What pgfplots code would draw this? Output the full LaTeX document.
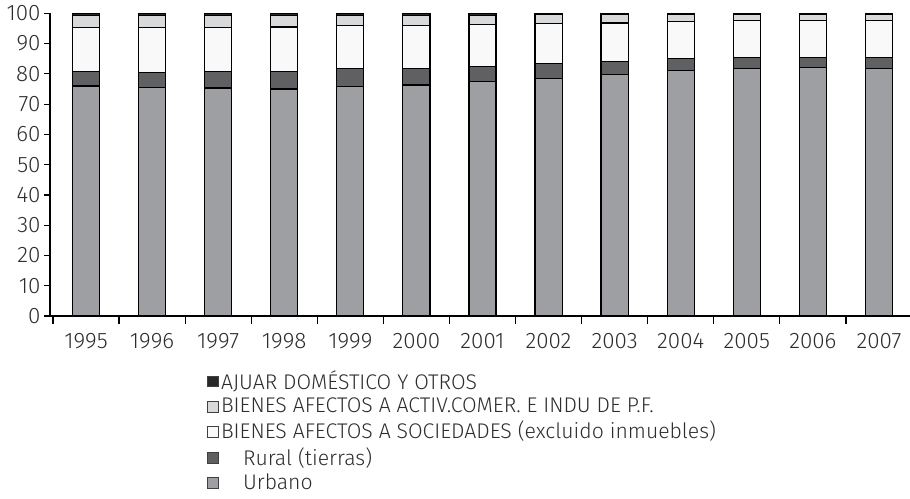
\documentclass[border=0pt]{standalone}
\usepackage{fontspec}
\setmainfont{Fira Sans Light}
\usepackage{pgfplots}
\pgfplotsset{compat=1.18}
\definecolor{urb}{RGB}{158,159,163}
\definecolor{rur}{RGB}{96,96,98}
\definecolor{soc}{RGB}{249,249,249}
\definecolor{act}{RGB}{216,217,219}
\definecolor{aju}{RGB}{40,40,40}
\definecolor{txt}{RGB}{45,45,45}
\pgfplotstableread{
x urb rur soc act aju
0  76.0 4.9 14.5 4.0 0.6
1  75.5 5.0 14.9 4.0 0.6
2  75.3 5.5 14.6 4.0 0.6
3  75.0 5.9 14.6 3.9 0.6
4  75.8 5.9 14.2 3.5 0.6
5  76.3 5.4 14.4 3.3 0.6
6  77.4 5.1 13.9 3.0 0.6
7  78.5 5.0 13.1 2.9 0.5
8  79.8 4.4 12.6 2.8 0.4
9  81.2 3.9 12.2 2.3 0.4
10 81.8 3.5 12.2 2.1 0.4
11 82.0 3.5 12.2 1.9 0.4
12 81.8 3.5 12.4 1.9 0.4
}\data
\begin{document}
\begin{tikzpicture}
\begin{axis}[
  scale only axis,
  width=430pt, height=151.35pt,
  anchor=south west, at={(0,0)},
  ybar stacked, bar width=0.41,
  xmin=-0.545, xmax=12.47,
  ymin=0, ymax=100,
  axis lines*=left,
  axis line style={black, line width=0.6pt},
  xtick={0,...,12},
  xticklabels={1995,1996,1997,1998,1999,2000,2001,2002,2003,2004,2005,2006,2007},
  major x tick style={draw=none},
  minor xtick={-0.5,0.5,...,11.5},
  minor x tick style={black, line width=0.6pt},
  minor tick length=4pt,
  ytick={0,10,...,100},
  major tick length=3pt,
  tick align=outside,
  y tick style={black, line width=0.6pt},
  tick label style={font=\fontsize{11.2}{12}\selectfont, text=txt},
  /pgf/number format/assume math mode=true,
  xticklabel style={yshift=-2pt},
  yticklabel style={xshift=1.8pt},
  legend style={draw=none, fill=none, inner sep=0pt, anchor=north west,
    at={(0.1826,-0.1718)}, font=\fontsize{10.6}{12}\selectfont, text=txt,
    cells={anchor=west}, row sep=0.8pt,
    nodes={inner sep=1pt}},
  reverse legend,
  legend image code/.code={\draw[#1,draw=black!75,line width=0.4pt] (0pt,-2.7pt) rectangle (5.4pt,2.7pt);},
  every axis plot/.append style={draw=black, line width=0.6pt},
]
\addplot[fill=urb] table[x=x,y=urb]{\data};
\addplot[fill=rur] table[x=x,y=rur]{\data};
\addplot[fill=soc] table[x=x,y=soc]{\data};
\addplot[fill=act] table[x=x,y=act]{\data};
\addplot[fill=aju] table[x=x,y=aju]{\data};
\legend{\hspace{11pt}Urbano,\hspace{11pt}Rural (tierras),BIENES AFECTOS A SOCIEDADES (excluido inmuebles),BIENES AFECTOS A ACTIV.COMER. E INDU DE P.F.,AJUAR DOMÉSTICO Y OTROS}
\end{axis}
\pgfresetboundingbox
\path[use as bounding box] (-25pt,-91pt) rectangle (430pt,158pt);
\end{tikzpicture}
\end{document}
